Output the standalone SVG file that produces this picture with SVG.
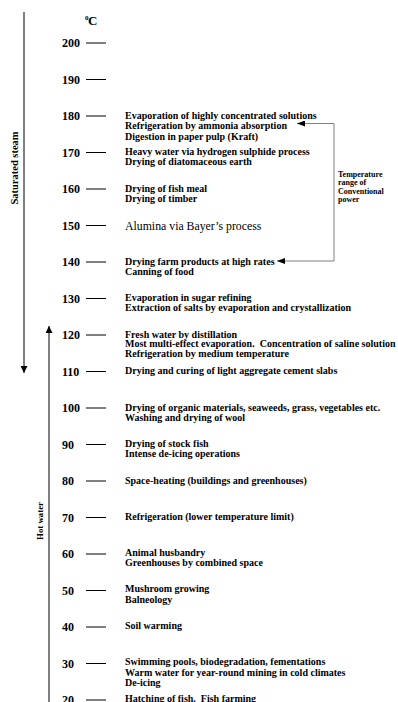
<svg xmlns="http://www.w3.org/2000/svg" width="398" height="702" viewBox="0 0 398 702">
<style>
text{font-family:"Liberation Serif","Times New Roman",serif;fill:#000;white-space:pre}
.num{font-size:12px;font-weight:bold}
.t{font-size:10px;font-weight:bold}
.big{font-size:11.8px;font-weight:normal}
.side{font-weight:bold}
.note{font-size:8px;font-weight:bold}
.tick{stroke:#000;stroke-width:1}
.ax{stroke:#000;stroke-width:1;fill:none}
.br{stroke:#808080;stroke-width:1;fill:none}
</style>
<defs>
<marker id="ah" viewBox="0 0 8 6" refX="8" refY="3" markerWidth="8" markerHeight="6" markerUnits="userSpaceOnUse" orient="auto">
<path d="M0,0 L8,3 L0,6 Z" fill="#000"/>
</marker>
<marker id="av" viewBox="0 0 7 7" refX="7" refY="3.5" markerWidth="7" markerHeight="7" markerUnits="userSpaceOnUse" orient="auto">
<path d="M0,0 L7,3.5 L0,7 Z" fill="#000"/>
</marker>
</defs>
<rect width="398" height="702" fill="#fff"/>
<g id="unit"><text x="85" y="20" style="font-size:7px;font-weight:bold">0</text><text x="88" y="24.5" style="font-size:13px;font-weight:bold">C</text></g>
<g id="scale">
<g id="t200"><text class="num" x="62" y="47">200</text><line class="tick" x1="86" y1="43" x2="106" y2="43"/></g>
<g id="t190"><text class="num" x="62" y="83.5">190</text><line class="tick" x1="86" y1="79.5" x2="106" y2="79.5"/></g>
<g id="t180"><text class="num" x="62" y="120">180</text><line class="tick" x1="86" y1="116" x2="106" y2="116"/></g>
<g id="t170"><text class="num" x="62" y="156.5">170</text><line class="tick" x1="86" y1="152.5" x2="106" y2="152.5"/></g>
<g id="t160"><text class="num" x="62" y="193">160</text><line class="tick" x1="86" y1="189" x2="106" y2="189"/></g>
<g id="t150"><text class="num" x="62" y="229.5">150</text><line class="tick" x1="86" y1="225.5" x2="106" y2="225.5"/></g>
<g id="t140"><text class="num" x="62" y="266">140</text><line class="tick" x1="86" y1="262" x2="106" y2="262"/></g>
<g id="t130"><text class="num" x="62" y="302.5">130</text><line class="tick" x1="86" y1="298.5" x2="106" y2="298.5"/></g>
<g id="t120"><text class="num" x="62" y="339">120</text><line class="tick" x1="86" y1="335" x2="106" y2="335"/></g>
<g id="t110"><text class="num" x="62" y="375.5">110</text><line class="tick" x1="86" y1="371.5" x2="106" y2="371.5"/></g>
<g id="t100"><text class="num" x="62" y="412">100</text><line class="tick" x1="86" y1="408" x2="106" y2="408"/></g>
<g id="t90"><text class="num" x="62" y="448.5">90</text><line class="tick" x1="86" y1="444.5" x2="106" y2="444.5"/></g>
<g id="t80"><text class="num" x="62" y="485">80</text><line class="tick" x1="86" y1="481" x2="106" y2="481"/></g>
<g id="t70"><text class="num" x="62" y="521.5">70</text><line class="tick" x1="86" y1="517.5" x2="106" y2="517.5"/></g>
<g id="t60"><text class="num" x="62" y="558">60</text><line class="tick" x1="86" y1="554" x2="106" y2="554"/></g>
<g id="t50"><text class="num" x="62" y="594.5">50</text><line class="tick" x1="86" y1="590.5" x2="106" y2="590.5"/></g>
<g id="t40"><text class="num" x="62" y="631">40</text><line class="tick" x1="86" y1="627" x2="106" y2="627"/></g>
<g id="t30"><text class="num" x="62" y="667.5">30</text><line class="tick" x1="86" y1="663.5" x2="106" y2="663.5"/></g>
<g id="t20"><text class="num" x="62" y="704">20</text><line class="tick" x1="86" y1="700" x2="106" y2="700"/></g>
</g>
<g id="uses">
<g id="u180"><text class="t" x="125" y="118.5">Evaporation of highly concentrated solutions</text><text class="t" x="125" y="129">Refrigeration by ammonia absorption</text><text class="t" x="125" y="139.5">Digestion in paper pulp (Kraft)</text></g>
<g id="u170"><text class="t" x="125" y="155">Heavy water via hydrogen sulphide process</text><text class="t" x="125" y="165">Drying of diatomaceous earth</text></g>
<g id="u160"><text class="t" x="125" y="191.5">Drying of fish meal</text><text class="t" x="125" y="201.5">Drying of timber</text></g>
<g id="u150"><text class="big" x="125" y="229.5">Alumina via Bayer’s process</text></g>
<g id="u140"><text class="t" x="125" y="264.5">Drying farm products at high rates</text><text class="t" x="125" y="274.5">Canning of food</text></g>
<g id="u130"><text class="t" x="125" y="301">Evaporation in sugar refining</text><text class="t" x="125" y="311">Extraction of salts by evaporation and crystallization</text></g>
<g id="u120"><text class="t" x="125" y="337.5">Fresh water by distillation</text><text class="t" x="125" y="347">Most multi-effect evaporation.  Concentration of saline solution</text><text class="t" x="125" y="356.5">Refrigeration by medium temperature</text></g>
<g id="u110"><text class="t" x="125" y="373.5">Drying and curing of light aggregate cement slabs</text></g>
<g id="u100"><text class="t" x="125" y="410.5">Drying of organic materials, seaweeds, grass, vegetables etc.</text><text class="t" x="125" y="420.5">Washing and drying of wool</text></g>
<g id="u90"><text class="t" x="125" y="446.5">Drying of stock fish</text><text class="t" x="125" y="457">Intense de-icing operations</text></g>
<g id="u80"><text class="t" x="125" y="483.5">Space-heating (buildings and greenhouses)</text></g>
<g id="u70"><text class="t" x="125" y="520">Refrigeration (lower temperature limit)</text></g>
<g id="u60"><text class="t" x="125" y="556">Animal husbandry</text><text class="t" x="125" y="566">Greenhouses by combined space</text></g>
<g id="u50"><text class="t" x="125" y="592">Mushroom growing</text><text class="t" x="125" y="602.5">Balneology</text></g>
<g id="u40"><text class="t" x="125" y="628.5">Soil warming</text></g>
<g id="u30"><text class="t" x="125" y="665">Swimming pools, biodegradation, fementations</text><text class="t" x="125" y="675.5">Warm water for year-round mining in cold climates</text><text class="t" x="125" y="686">De-icing</text></g>
<g id="u20"><text class="t" x="125" y="701.5">Hatching of fish.  Fish farming</text></g>
</g>
<g id="labels">
<g id="steam"><text class="side" style="font-size:10.5px" text-anchor="middle" transform="translate(17.5,168) rotate(-90)">Saturated steam</text></g>
<g id="hot"><text class="side" style="font-size:8.8px" text-anchor="middle" transform="translate(42.5,521) rotate(-90)">Hot water</text></g>
<g id="conv"><text class="note" x="338" y="176.5">Temperature</text><text class="note" x="338" y="185">range of</text><text class="note" x="338" y="193.5">Conventional</text><text class="note" x="338" y="202">power</text></g>
</g>
<g id="connectors">
<line class="ax" x1="24" y1="12" x2="24" y2="373" marker-end="url(#av)"/>
<line class="ax" x1="49" y1="702" x2="49" y2="326" marker-end="url(#av)"/>
<polyline class="br" points="334,123.5 334,261"/>
<line class="br" x1="334" y1="123.5" x2="297" y2="123.5" marker-end="url(#ah)"/>
<line class="br" x1="334" y1="261" x2="277" y2="261" marker-end="url(#ah)"/>
</g>
</svg>
